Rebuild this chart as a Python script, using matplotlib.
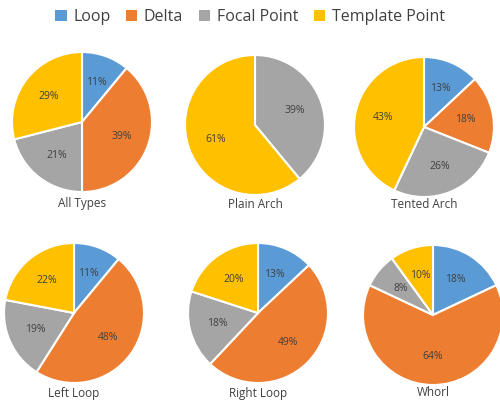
import numpy as np
import matplotlib
matplotlib.use("Agg")
import matplotlib.pyplot as plt
from matplotlib.patches import Patch

plt.rcParams['font.family'] = ['Open Sans', 'DejaVu Sans']

# fingerprint feature shares per pattern type
categories = ['Loop', 'Delta', 'Focal Point', 'Template Point']
colors = ['#5B9BD5', '#ED7D31', '#A5A5A5', '#FFC000']

all_types = [11, 39, 21, 29]
plain_arch = [0, 0, 39, 61]
tented_arch = [13, 18, 26, 43]
left_loop = [11, 48, 19, 22]
right_loop = [13, 49, 18, 20]
whorl = [18, 64, 8, 10]

titles = ['All Types', 'Plain Arch', 'Tented Arch', 'Left Loop', 'Right Loop', 'Whorl']
series = [all_types, plain_arch, tented_arch, left_loop, right_loop, whorl]

W, H = 500, 403
fig = plt.figure(figsize=(W / 100, H / 100), dpi=100)

# pie centres in pixels (x, y from top), radius and caption rows
centres = [(82, 122), (255, 125), (424, 127), (74, 313), (258, 313), (433, 315)]
caption_y = [204, 204, 204, 393, 393, 393]
r = 70

for (cx, cy), ty, vals, title in zip(centres, caption_y, series, titles):
    ax = fig.add_axes([(cx - r) / W, (H - cy - r) / H, 2 * r / W, 2 * r / H])
    keep = [i for i, v in enumerate(vals) if v > 0]
    v = [vals[i] for i in keep]
    c = [colors[i] for i in keep]
    ax.pie(v, colors=c, startangle=90, counterclock=False,
           autopct='%d%%', pctdistance=0.6,
           wedgeprops=dict(edgecolor='white', linewidth=1.5),
           textprops=dict(fontsize=7.5, color='#404040'))
    ax.set_xlim(-1, 1)
    ax.set_ylim(-1, 1)
    ax.set_aspect('equal')
    fig.text(cx / W, 1 - ty / H, title, ha='center', va='center',
             fontsize=8.5, color='#404040')

handles = [Patch(facecolor=col, edgecolor='none') for col in colors]
fig.legend(handles, categories, loc='center', bbox_to_anchor=(0.5, 1 - 17 / H),
           ncol=4, frameon=False, fontsize=11.5, handlelength=0.7, handleheight=0.7,
           handletextpad=0.4, columnspacing=1.0, labelcolor='#404040')

fig.savefig('out.png', dpi=100)
